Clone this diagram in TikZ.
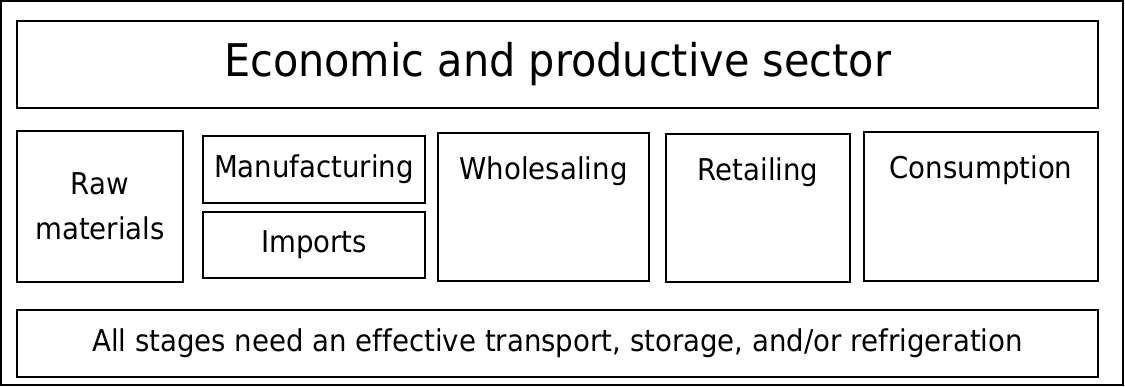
\documentclass[tikz,border=0pt]{standalone}
\usepackage{fontspec}
\setmainfont{DejaVu Sans}[FakeStretch=0.92, Ligatures=NoCommon]
\usetikzlibrary{positioning}

\begin{document}
\begin{tikzpicture}[x=1pt, y=-1pt,
  stage/.style={draw, line width=1.5pt, inner sep=0pt, font=\fontsize{30}{45}\selectfont, align=center},
  stagetext/.style={inner sep=0pt, anchor=north, font=\fontsize{30}{45}\selectfont}]
  % Outer frame fixes the picture size
  \draw[line width=2pt] (1,1) rectangle (1123,385);
  \useasboundingbox (0,0) rectangle (1125,387);

  % Title box
  \node[stage, minimum width=1081pt, minimum height=87pt, font=\fontsize{45}{54}\selectfont] (sector) at (557.5,64.5) {Economic and productive sector};

  % Stage boxes
  \node[stage, minimum width=166pt, minimum height=151pt] (raw) at (100,206.5) {Raw\\materials};
  \node[stage, minimum width=222pt, minimum height=67pt] (manuf) at (314,169.5) {Manufacturing};
  \node[stage, minimum width=222pt, minimum height=66pt] (imports) at (314,245) {Imports};
  \node[stage, minimum width=211pt, minimum height=148pt] (whole) at (543.5,207) {};
  \node[stage, minimum width=184pt, minimum height=148pt] (retail) at (758,208) {};
  \node[stage, minimum width=234pt, minimum height=149pt] (consum) at (981,206.5) {};

  % Texts at the top of the tall boxes
  \node[stagetext] (wholetext) at ([yshift=-24pt]whole.north) {Wholesaling};
  \node[stagetext] (retailtext) at ([yshift=-24pt]retail.north) {Retailing};
  \node[stagetext] (consumtext) at ([yshift=-24pt]consum.north) {Consumption};

  % Bottom box
  \node[stage, minimum width=1081pt, minimum height=67pt] (transport) at (557.5,343.5) {All stages need an effective transport, storage, and/or refrigeration};
\end{tikzpicture}
\end{document}
